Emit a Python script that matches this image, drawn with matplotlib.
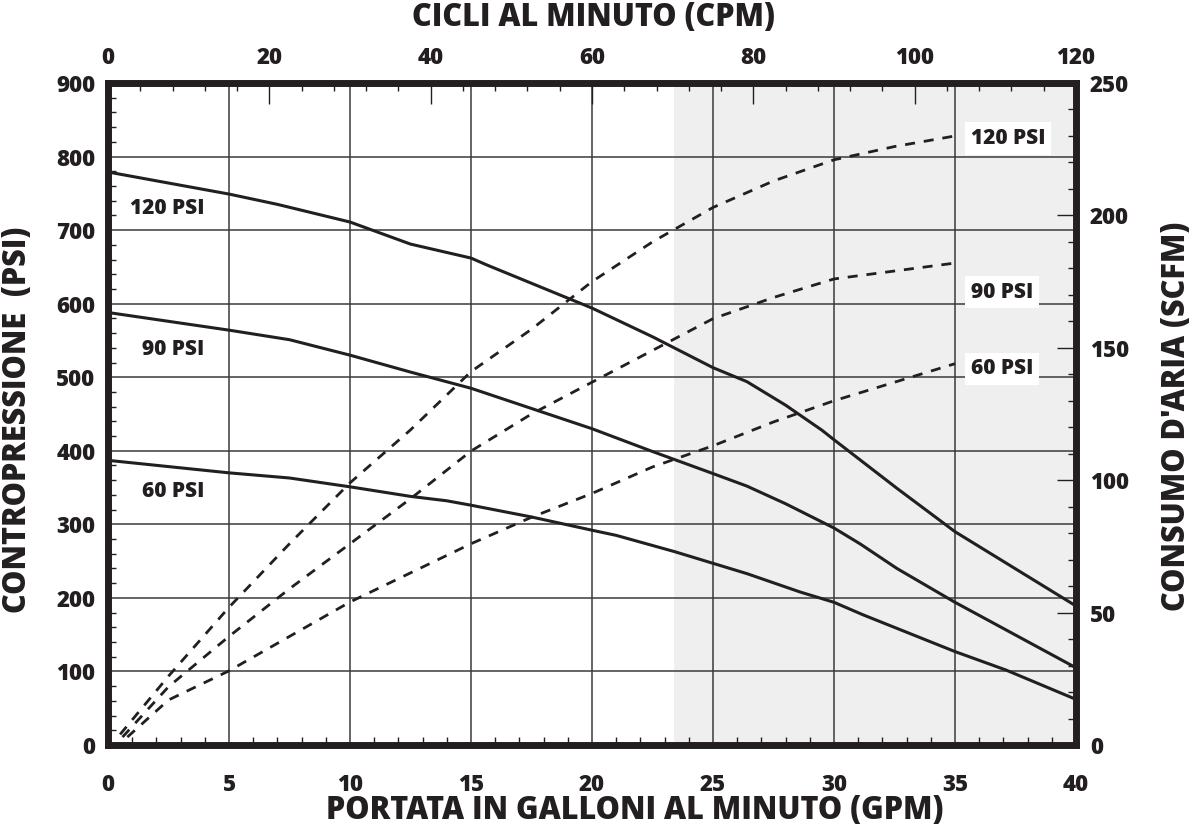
import matplotlib
matplotlib.use("Agg")
import matplotlib.pyplot as plt
from matplotlib.ticker import MultipleLocator

plt.rcParams['font.family'] = ['Open Sans', 'DejaVu Sans']
plt.rcParams['font.weight'] = 'heavy'

INK = '#231f20'

# backpressure curves (PSI vs GPM), one per inlet air pressure
gpm_120 = [0, 5, 7, 10, 12.5, 15, 15.7, 20, 22.5, 25, 26.4, 28, 29.5, 30, 32.6, 35, 40]
psi_120 = [779, 749, 735, 711, 681, 662, 652, 594, 555, 513, 494, 462, 428, 415, 349, 290, 189]
gpm_90 = [0, 5, 7.5, 10, 12.5, 15, 20, 22.5, 25, 26.4, 28, 30, 31.1, 32.6, 35, 40]
psi_90 = [588, 564, 551, 530, 507, 485, 430, 399, 369, 352, 328, 295, 273, 240, 194, 105]
gpm_60 = [0, 5, 7.5, 10, 12.5, 14, 15, 17.5, 20, 21, 23.4, 25, 26.4, 28.6, 30, 31.2, 35, 37.1, 40]
psi_60 = [387, 370, 363, 351, 338, 332, 326, 310, 292, 285, 263, 247, 233, 208, 194, 177, 127, 102, 62]

# air consumption curves (SCFM vs GPM)
air_gpm = [2.5, 5, 7.5, 10, 12.5, 15, 17.5, 20, 22.5, 25, 27.5, 30, 32.5, 35]
scfm_120 = [26, 52, 76, 99, 119, 141, 157, 175, 190, 203, 213, 221, 226, 230]
scfm_90 = [22, 41, 59, 76, 93, 111, 125, 137, 149, 161, 169, 176, 179, 182]
scfm_60 = [17, 28, 41, 54, 65, 76, 86, 95, 105, 113, 122, 130, 137, 144]
air_start_gpm = [0.5, 0.6, 0.8]
air_start_scfm = [4, 3, 3]

curve_labels = ['120 PSI', '90 PSI', '60 PSI']

W, H = 1193, 832
fig = plt.figure(figsize=(W / 100, H / 100), dpi=100)
x0, x1, y0, y1 = 108, 1076, 83, 745
ax = fig.add_axes([x0 / W, 1 - y1 / H, (x1 - x0) / W, (y1 - y0) / H])

ax.set_xlim(0, 40)
ax.set_ylim(0, 900)
ax.axvspan(23.4, 40, color='#efefef', zorder=0, lw=0)

ax.xaxis.set_major_locator(MultipleLocator(5))
ax.xaxis.set_minor_locator(MultipleLocator(1))
ax.yaxis.set_major_locator(MultipleLocator(100))
ax.yaxis.set_minor_locator(MultipleLocator(20))
ax.grid(which='major', color='#3a3a3a', lw=1.1, zorder=1)
ax.set_axisbelow(True)
ax.tick_params(which='major', length=0, labelsize=16, colors=INK)
ax.tick_params(axis='x', which='major', pad=20)
ax.tick_params(axis='y', which='major', pad=9)
ax.tick_params(which='minor', direction='in', length=6, width=1, color=INK)

for sp in ax.spines.values():
    sp.set_linewidth(5)
    sp.set_color(INK)
    sp.set_capstyle('projecting')
    sp.set_zorder(10)

solid = [(gpm_120, psi_120), (gpm_90, psi_90), (gpm_60, psi_60)]
for gx, py in solid:
    ax.plot(gx, py, color=INK, lw=2.2, zorder=3, clip_on=False)

ax.text(0.9, 730, '120 PSI', fontsize=15, va='center', ha='left', color=INK)
ax.text(1.4, 538, '90 PSI', fontsize=15, va='center', ha='left', color=INK)
ax.text(1.4, 344, '60 PSI', fontsize=15, va='center', ha='left', color=INK)

# right axis: air consumption
axr = ax.twinx()
axr.set_ylim(0, 250)
axr.yaxis.set_major_locator(MultipleLocator(50))
axr.yaxis.set_minor_locator(MultipleLocator(10))
axr.tick_params(which='major', direction='in', length=13.5, width=1, color=INK,
                labelsize=16, labelcolor=INK, pad=10)
axr.tick_params(which='minor', direction='in', length=6, width=1, color=INK)
for sp in axr.spines.values():
    sp.set_visible(False)

scfm = [scfm_120, scfm_90, scfm_60]
for i, sy in enumerate(scfm):
    line, = axr.plot([air_start_gpm[i]] + air_gpm, [air_start_scfm[i]] + sy,
                     color=INK, lw=2.0, zorder=3)
    line.set_dashes((3.6, 3.2))

right_lab_y = [229, 171, 142]
for lab, yy in zip(curve_labels, right_lab_y):
    axr.text(35.65, yy, lab, fontsize=15, va='center', ha='left', color=INK, zorder=6,
             bbox=dict(facecolor='white', edgecolor='none', pad=4))

# top axis: cycles per minute
axt = ax.twiny()
axt.set_xlim(0, 120)
axt.xaxis.set_major_locator(MultipleLocator(20))
axt.xaxis.set_minor_locator(MultipleLocator(4))
axt.tick_params(which='major', direction='in', length=15, width=1, color=INK,
                labelsize=16, labelcolor=INK, pad=9)
axt.tick_params(which='minor', direction='in', length=6, width=1, color=INK)
for sp in axt.spines.values():
    sp.set_visible(False)

fig.text(593 / W, 1 - 18 / H, 'CICLI AL MINUTO (CPM)', fontsize=22, ha='center', va='center', color=INK)
fig.text(635 / W, 1 - 811 / H, 'PORTATA IN GALLONI AL MINUTO (GPM)', fontsize=22, ha='center', va='center', color=INK)
fig.text(18 / W, 1 - 420 / H, 'CONTROPRESSIONE  (PSI)', fontsize=22, rotation=90, ha='center', va='center', color=INK)
fig.text(1177 / W, 1 - 416 / H, "CONSUMO D'ARIA (SCFM)", fontsize=22, rotation=90, ha='center', va='center', color=INK)

fig.savefig('out.png', dpi=100)
